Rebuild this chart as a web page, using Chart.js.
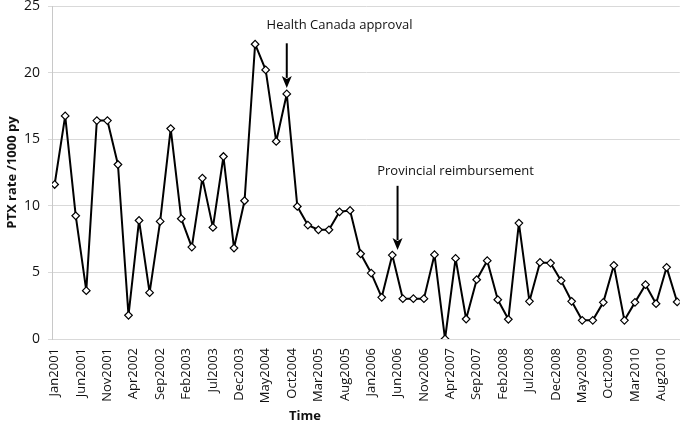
<!DOCTYPE html>
<html>
<head>
<meta charset="utf-8">
<script src="https://cdn.jsdelivr.net/npm/chart.js@4/dist/chart.umd.min.js"></script>
<style>
  html, body { margin: 0; padding: 0; background: #fff; }
  #wrap { width: 685px; height: 425px; }
</style>
</head>
<body>
<div id="wrap"><canvas id="c" width="685" height="425"></canvas></div>
<script>
// Bimonthly observation periods
const periods = [
  'Jan2001','Mar2001','May2001','Jul2001','Sep2001','Nov2001',
  'Jan2002','Mar2002','May2002','Jul2002','Sep2002','Nov2002',
  'Jan2003','Mar2003','May2003','Jul2003','Sep2003','Nov2003',
  'Jan2004','Mar2004','May2004','Jul2004','Sep2004','Nov2004',
  'Jan2005','Mar2005','May2005','Jul2005','Sep2005','Nov2005',
  'Jan2006','Mar2006','May2006','Jul2006','Sep2006','Nov2006',
  'Jan2007','Mar2007','May2007','Jul2007','Sep2007','Nov2007',
  'Jan2008','Mar2008','May2008','Jul2008','Sep2008','Nov2008',
  'Jan2009','Mar2009','May2009','Jul2009','Sep2009','Nov2009',
  'Jan2010','Mar2010','May2010','Jul2010','Sep2010','Nov2010'
];
// PTX rate per 1000 person-years
const ptxRate = [
  11.6, 16.75, 9.25, 3.63, 16.4, 16.4,
  13.1, 1.78, 8.9, 3.48, 8.83, 15.8,
  9.03, 6.9, 12.08, 8.38, 13.7, 6.83,
  10.38, 22.13, 20.2, 14.83, 18.4, 9.95,
  8.55, 8.2, 8.2, 9.55, 9.65, 6.4,
  4.95, 3.13, 6.3, 3.03, 3.03, 3.03,
  6.33, 0, 6.05, 1.5, 4.45, 5.88,
  2.95, 1.48, 8.7, 2.83, 5.75, 5.7,
  4.38, 2.83, 1.4, 1.4, 2.75, 5.53,
  1.4, 2.75, 4.08, 2.65, 5.38, 2.78
];
// Axis tick labels (every 5 months)
const tickLabels = [
  'Jan2001','Jun2001','Nov2001','Apr2002','Sep2002','Feb2003','Jul2003','Dec2003',
  'May2004','Oct2004','Mar2005','Aug2005','Jan2006','Jun2006','Nov2006','Apr2007',
  'Sep2007','Feb2008','Jul2008','Dec2008','May2009','Oct2009','Mar2010','Aug2010'
];
const yTicks = [0, 5, 10, 15, 20, 25];

const MONTHS = ['Jan','Feb','Mar','Apr','May','Jun','Jul','Aug','Sep','Oct','Nov','Dec'];
function monthIndex(label) {
  return (parseInt(label.slice(3), 10) - 2001) * 12 + MONTHS.indexOf(label.slice(0, 3));
}
const tickIndex = tickLabels.map(monthIndex);
const tickNameByIndex = {};
tickLabels.forEach((l, i) => { tickNameByIndex[tickIndex[i]] = l; });

const points = periods.map((p, i) => ({ x: monthIndex(p), y: ptxRate[i] }));

// Annotations (anchored in data units)
const annotations = [
  { text: 'Health Canada approval', textAt: 'Jul2005', textY: 23.55, arrowAt: 'Sep2004', arrowFrom: 22.2, arrowTo: 18.85 },
  { text: 'Provincial reimbursement', textAt: 'May2007', textY: 12.6, arrowAt: 'Jun2006', arrowFrom: 11.5, arrowTo: 6.68 }
];

const FONT = '"Open Sans", "Liberation Sans", sans-serif';

const annotationPlugin = {
  id: 'annot',
  afterDatasetsDraw(chart) {
    const ctx = chart.ctx;
    const xs = chart.scales.x, ys = chart.scales.y;
    ctx.save();
    annotations.forEach(a => {
      const tx = xs.getPixelForValue(monthIndex(a.textAt));
      const ty = ys.getPixelForValue(a.textY);
      ctx.fillStyle = '#111';
      ctx.font = '13px ' + FONT;
      ctx.textAlign = 'center';
      ctx.textBaseline = 'middle';
      ctx.fillText(a.text, tx, ty);
      const ax = xs.getPixelForValue(monthIndex(a.arrowAt));
      const y0 = ys.getPixelForValue(a.arrowFrom);
      const y1 = ys.getPixelForValue(a.arrowTo);
      const headLen = 12, headHalf = 5;
      ctx.strokeStyle = '#000';
      ctx.lineWidth = 2;
      ctx.beginPath();
      ctx.moveTo(ax, y0);
      ctx.lineTo(ax, y1 - headLen + 2);
      ctx.stroke();
      ctx.fillStyle = '#000';
      ctx.beginPath();
      ctx.moveTo(ax, y1);
      ctx.lineTo(ax - headHalf, y1 - headLen);
      ctx.lineTo(ax, y1 - headLen + 3);
      ctx.lineTo(ax + headHalf, y1 - headLen);
      ctx.closePath();
      ctx.fill();
    });
    // x-axis title "Time"
    ctx.fillStyle = '#111';
    ctx.font = 'bold 13px ' + FONT;
    ctx.textAlign = 'center';
    ctx.textBaseline = 'middle';
    ctx.fillText('Time', xs.getPixelForValue(monthIndex('Jan2005')) - 3, 416);
    ctx.restore();
  }
};

new Chart(document.getElementById('c'), {
  type: 'line',
  data: {
    datasets: [{
      data: points,
      borderColor: '#000',
      borderWidth: 2,
      borderJoinStyle: 'round',
      tension: 0,
      pointStyle: 'rectRot',
      pointRadius: 3.8,
      pointBorderWidth: 1.2,
      pointBorderColor: '#000',
      pointBackgroundColor: '#fff',
      fill: false
    }]
  },
  options: {
    responsive: false,
    animation: false,
    devicePixelRatio: 1,
    layout: { padding: { top: 6, right: 4, left: 0, bottom: 0 } },
    plugins: { legend: { display: false }, tooltip: { enabled: false } },
    scales: {
      x: {
        type: 'linear',
        min: -0.5,
        max: 118.5,
        afterBuildTicks(scale) { scale.ticks = tickIndex.map(v => ({ value: v })); },
        afterFit(scale) {
          scale.height = 86;
          scale.paddingLeft = 0;
          scale.paddingRight = 0;
        },
        grid: { display: false, drawTicks: false },
        border: { display: true, color: '#d9d9d9', width: 1 },
        ticks: {
          autoSkip: false,
          maxRotation: 90,
          minRotation: 90,
          padding: 9,
          color: '#111',
          font: { family: FONT, size: 13 },
          callback: (v) => tickNameByIndex[v] || ''
        }
      },
      y: {
        min: 0,
        max: 25,
        afterBuildTicks(scale) { scale.ticks = yTicks.map(v => ({ value: v })); },
        afterFit(scale) {
          scale.width = 52;
          scale.paddingTop = 0;
          scale.paddingBottom = 0;
        },
        grid: { color: '#d9d9d9', lineWidth: 1, tickLength: 4, drawTicks: true },
        border: { display: true, color: '#c8c8c8', width: 1 },
        ticks: {
          padding: 8,
          color: '#111',
          font: { family: FONT, size: 14 }
        },
        title: {
          display: true,
          text: 'PTX rate /1000 py',
          color: '#111',
          font: { family: FONT, size: 13, weight: 'bold' },
          padding: { top: 4, bottom: 0 }
        }
      }
    }
  },
  plugins: [annotationPlugin]
});
</script>
</body>
</html>
